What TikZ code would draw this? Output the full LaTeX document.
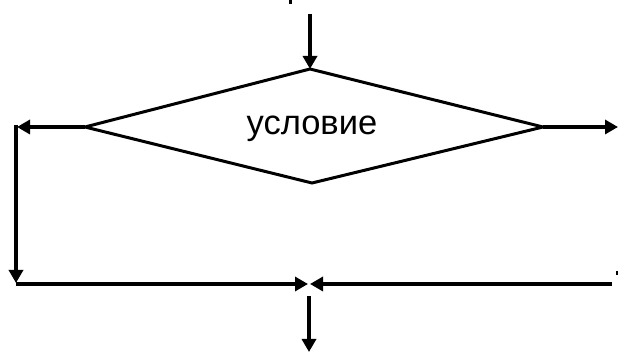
\documentclass[tikz,border=0pt]{standalone}
\usepackage{fontspec}
\setmainfont{Liberation Sans}
\usetikzlibrary{arrows.meta}
\begin{document}
\begin{tikzpicture}[x=1pt,y=-1pt,
  conn/.style={line width=4pt,-{Triangle[length=13pt,width=14pt]}},
  diaedge/.style={line width=3pt,line join=miter}]
\useasboundingbox (0,0) rectangle (618,352);
% diamond corners
\coordinate (dl) at (85,127);
\coordinate (dt) at (310,69);
\coordinate (dr) at (543,127);
\coordinate (db) at (312,183);
\draw[diaedge] (dl) -- (dt) -- (dr) -- (db) -- cycle;
\node[font=\fontsize{34.5}{38}\selectfont,inner sep=0pt] (cond) at (312,129) {условие};
% other points
\coordinate (top) at (310,14);
\coordinate (lt) at (17,127);
\coordinate (rt) at (618,127);
\coordinate (lv0) at (16,125);
\coordinate (lv1) at (16,283);
\coordinate (hl0) at (16,284);
\coordinate (hl1) at (308,284);
\coordinate (hr0) at (612,284);
\coordinate (hr1) at (310,284);
\coordinate (out0) at (309,296);
\coordinate (out1) at (309,352);
\coordinate (m1a) at (290,0);
\coordinate (m1b) at (290,4);
\coordinate (m2a) at (617,271);
\coordinate (m2b) at (617,275);
% connectors
\draw[conn] (top) -- (dt);
\draw[conn] (dl) -- (lt);
\draw[conn] (dr) -- (rt);
\draw[conn] (lv0) -- (lv1);
\draw[conn] (hl0) -- (hl1);
\draw[conn] (hr0) -- (hr1);
\draw[conn] (out0) -- (out1);
\draw[line width=3pt] (m1a) -- (m1b);
\draw[line width=2pt] (m2a) -- (m2b);
\end{tikzpicture}
\end{document}
